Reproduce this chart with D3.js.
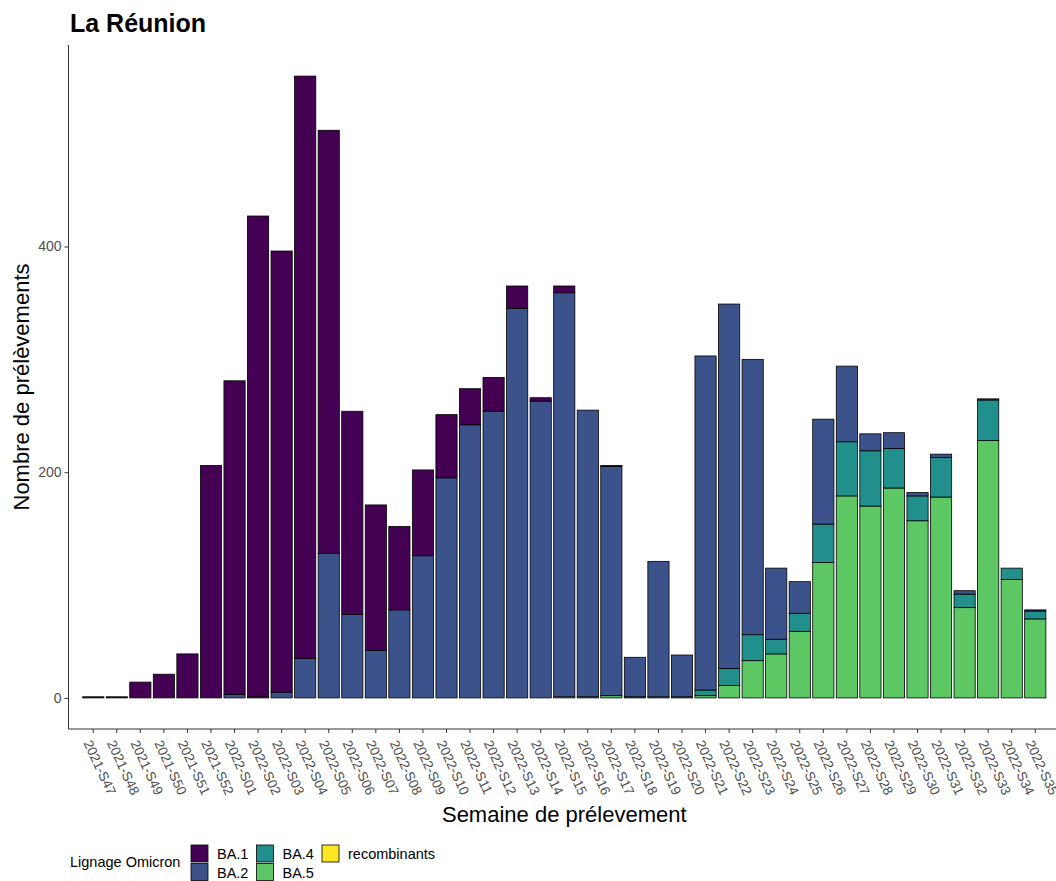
<!DOCTYPE html>
<html>
<head>
<meta charset="utf-8">
<script src="https://cdn.jsdelivr.net/npm/d3@7"></script>
<style>
  body { margin: 0; background: #fff; }
  svg { display: block; font-family: "Liberation Sans", Arial, sans-serif; }
</style>
</head>
<body>
<svg id="chart" width="1056" height="881"></svg>
<script>
var weeks = [
  "2021-S47", "2021-S48", "2021-S49", "2021-S50", "2021-S51", "2021-S52",
  "2022-S01", "2022-S02", "2022-S03", "2022-S04", "2022-S05", "2022-S06",
  "2022-S07", "2022-S08", "2022-S09", "2022-S10", "2022-S11", "2022-S12",
  "2022-S13", "2022-S14", "2022-S15", "2022-S16", "2022-S17", "2022-S18",
  "2022-S19", "2022-S20", "2022-S21", "2022-S22", "2022-S23", "2022-S24",
  "2022-S25", "2022-S26", "2022-S27", "2022-S28", "2022-S29", "2022-S30",
  "2022-S31", "2022-S32", "2022-S33", "2022-S34", "2022-S35"
];

var ba1 = [1, 1, 14, 21, 39, 206, 278, 426, 391, 516, 375, 180, 129, 74, 76, 56, 32, 30, 20, 3, 6,
  0, 1, 0, 0, 0, 0, 0, 0, 0, 0, 0, 0, 0, 0, 0, 0, 0, 0, 0, 0];
var ba2 = [0, 0, 0, 0, 0, 0, 3, 1, 5, 35, 128, 74, 42, 78, 126, 195, 242, 254, 345, 263, 358,
  254, 203, 35, 120, 37, 296, 323, 244, 63, 28, 93, 67, 15, 14, 3, 3, 3, 1, 0, 1];
var ba4 = [0, 0, 0, 0, 0, 0, 0, 0, 0, 0, 0, 0, 0, 0, 0, 0, 0, 0, 0, 0, 0,
  0, 0, 1, 0, 0, 5, 15, 23, 13, 16, 34, 48, 49, 35, 22, 35, 12, 36, 10, 7];
var ba5 = [0, 0, 0, 0, 0, 0, 0, 0, 0, 0, 0, 0, 0, 0, 0, 0, 0, 0, 0, 0, 0,
  1, 2, 0, 1, 1, 2, 11, 33, 39, 59, 120, 179, 170, 186, 157, 178, 80, 228, 105, 70];
var recombinants = [0, 0, 0, 0, 0, 0, 0, 0, 0, 0, 0, 0, 0, 0, 0, 0, 0, 0, 0, 0, 1,
  0, 0, 0, 0, 0, 0, 0, 0, 0, 0, 0, 0, 0, 0, 0, 0, 0, 0, 0, 0];

var lineages = ["BA.1", "BA.2", "BA.4", "BA.5", "recombinants"];
var lineageColors = ["#440154", "#3B528B", "#21908C", "#5DC863", "#FDE725"];
var yTicks = [0, 200, 400];

function drawChart(selector) {
  var svg = d3.select(selector);

  var plotLeft = 68.5, plotRight = 1060, plotTop = 45, plotBottom = 729;

  // one row per week, ggplot stacks the first level on top
  var rows = weeks.map(function(w, i) {
    return {
      week: w,
      "BA.1": ba1[i],
      "BA.2": ba2[i],
      "BA.4": ba4[i],
      "BA.5": ba5[i],
      "recombinants": recombinants[i]
    };
  });

  var series = d3.stack()
    .keys(lineages.slice().reverse())(rows);

  var maxTotal = d3.max(series[series.length - 1], function(d) { return d[1]; });

  var x = d3.scaleBand()
    .domain(weeks)
    .range([plotLeft, plotRight])
    .paddingInner(0.1)
    .paddingOuter(0.6);

  var y = d3.scaleLinear()
    .domain([-0.05 * maxTotal, maxTotal * 1.05])
    .range([plotBottom, plotTop]);

  var color = d3.scaleOrdinal()
    .domain(lineages)
    .range(lineageColors);

  // bars
  svg.append("g")
    .selectAll("g")
    .data(series)
    .enter().append("g")
      .attr("fill", function(d) { return color(d.key); })
      .selectAll("rect")
        .data(function(d) { return d.filter(function(p) { return p[1] > p[0]; }); })
        .enter().append("rect")
          .attr("x", function(d) { return x(d.data.week); })
          .attr("width", x.bandwidth())
          .attr("y", function(d) { return y(d[1]); })
          .attr("height", function(d) { return y(d[0]) - y(d[1]); })
          .attr("stroke", "#000")
          .attr("stroke-width", 0.8);

  // y axis
  var yAxis = svg.append("g")
    .attr("transform", "translate(" + plotLeft + ",0)")
    .call(d3.axisLeft(y).tickValues(yTicks).tickSize(4).tickSizeOuter(0).tickPadding(3))
    .attr("font-family", null)
    .attr("font-size", null);
  yAxis.select(".domain").attr("stroke", "#333").attr("d", "M0," + plotTop + "V" + plotBottom);
  yAxis.selectAll(".tick line").attr("stroke", "#333");
  yAxis.selectAll(".tick text")
    .attr("fill", "#4D4D4D")
    .attr("font-size", 14);

  // x axis
  var xAxis = svg.append("g")
    .attr("transform", "translate(0," + plotBottom + ")")
    .call(d3.axisBottom(x).tickSize(4).tickSizeOuter(0))
    .attr("font-family", null)
    .attr("font-size", null);
  xAxis.select(".domain").attr("stroke", "#333").attr("d", "M" + plotLeft + ",0H" + plotRight);
  xAxis.selectAll(".tick line").attr("stroke", "#333");
  xAxis.selectAll(".tick text")
    .attr("fill", "#4D4D4D")
    .attr("font-size", 13.5)
    .attr("text-anchor", "start")
    .attr("dy", null)
    .attr("y", 0)
    .attr("transform", "translate(-10,14) rotate(65)");

  // titles
  svg.append("text")
    .attr("x", 70)
    .attr("y", 32)
    .attr("font-size", 25)
    .attr("font-weight", "bold")
    .attr("fill", "#000")
    .text("La Réunion");

  svg.append("text")
    .attr("transform", "translate(29," + (plotTop + plotBottom) / 2 + ") rotate(-90)")
    .attr("text-anchor", "middle")
    .attr("font-size", 22)
    .attr("fill", "#000")
    .text("Nombre de prélèvements");

  svg.append("text")
    .attr("x", (plotLeft + plotRight) / 2)
    .attr("y", 822)
    .attr("text-anchor", "middle")
    .attr("font-size", 22)
    .attr("fill", "#000")
    .text("Semaine de prélevement");

  // legend, two rows filled by column
  var legend = svg.append("g");

  legend.append("text")
    .attr("x", 70)
    .attr("y", 867)
    .attr("font-size", 14.5)
    .text("Lignage Omicron");

  var keys = legend.selectAll("g.key")
    .data(lineages)
    .enter().append("g")
      .attr("class", "key")
      .attr("transform", function(d, i) {
        var col = Math.floor(i / 2), row = i % 2;
        return "translate(" + (191 + col * 65.5) + "," + (845 + row * 18.5) + ")";
      });

  keys.append("rect")
    .attr("width", 17)
    .attr("height", 17)
    .attr("fill", function(d) { return color(d); })
    .attr("stroke", "#000")
    .attr("stroke-width", 0.8);

  keys.append("text")
    .attr("x", 26)
    .attr("y", 14)
    .attr("font-size", 14.5)
    .text(function(d) { return d; });
}

drawChart("#chart");
</script>
</body>
</html>
